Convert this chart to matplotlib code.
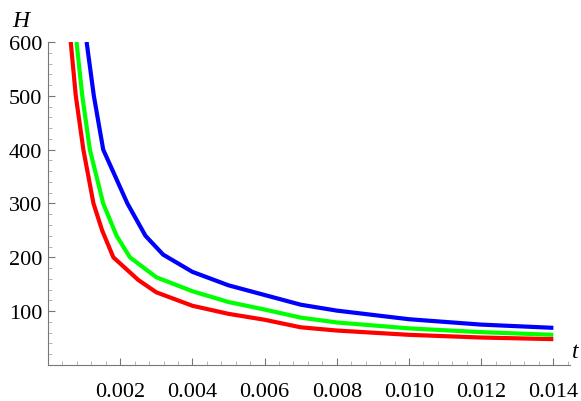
import matplotlib
matplotlib.use("Agg")
import matplotlib.pyplot as plt
from matplotlib.ticker import MultipleLocator, FixedLocator

t_red = [0.00063, 0.00077, 0.00098, 0.00126, 0.00150, 0.00181, 0.0025, 0.003, 0.004, 0.005, 0.006, 0.007, 0.008, 0.010, 0.012, 0.014]
H_red = [600, 500, 400, 300, 250, 200, 158, 135, 110, 95, 84, 70, 64, 56, 51, 48]
t_green = [0.00079, 0.00095, 0.00116, 0.00153, 0.0019, 0.00227, 0.003, 0.004, 0.005, 0.006, 0.007, 0.008, 0.010, 0.012, 0.014]
H_green = [600, 500, 400, 300, 240, 200, 163, 137, 117, 103, 88, 79, 68, 61, 56]
t_blue = [0.00107, 0.00127, 0.00153, 0.0022, 0.0027, 0.00319, 0.004, 0.005, 0.006, 0.007, 0.008, 0.010, 0.012, 0.014]
H_blue = [600, 500, 400, 300, 240, 205, 173, 148, 130, 112, 101, 85, 75, 69]
xticks = [0.002, 0.004, 0.006, 0.008, 0.010, 0.012, 0.014]
xlabels = ["0.002", "0.004", "0.006", "0.008", "0.010", "0.012", "0.014"]
yticks = [100, 200, 300, 400, 500, 600]

plt.rcParams['font.family'] = ['Liberation Serif']
fig = plt.figure(figsize=(5.81, 4.02), dpi=100)
ax = fig.add_axes([0.0826, 0.0896, 0.8984, 0.8035])
for t, H, c in [(t_red, H_red, '#ff0000'), (t_green, H_green, '#00ff00'), (t_blue, H_blue, '#0000ff')]:
    ax.plot(t, H, color=c, lw=3, solid_capstyle='butt')
ax.set_xlim(0, 0.01446)
ax.set_ylim(0, 600)
for s in ['top', 'right']:
    ax.spines[s].set_visible(False)
for s in ['left', 'bottom']:
    ax.spines[s].set_color('#777777')
ax.set_xticks(xticks)
ax.set_xticklabels(xlabels, fontsize=16)
ax.set_yticks(yticks)
ax.set_yticklabels([str(v) for v in yticks], fontsize=16)
ax.xaxis.set_minor_locator(MultipleLocator(0.0004))
ax.yaxis.set_minor_locator(MultipleLocator(20))
ax.tick_params(which='major', direction='in', length=5, color='#777777', pad=4)
ax.tick_params(which='minor', direction='in', length=3, color='#aaaaaa')
ax.tick_params(axis='x', which='major', pad=12)
ax.text(-0.001, 620, "H", fontsize=17, style='italic', ha='left', va='bottom')
ax.text(0.01452, 5, "t", fontsize=17, style='italic', ha='left', va='bottom')
fig.savefig("out.png", dpi=100)
